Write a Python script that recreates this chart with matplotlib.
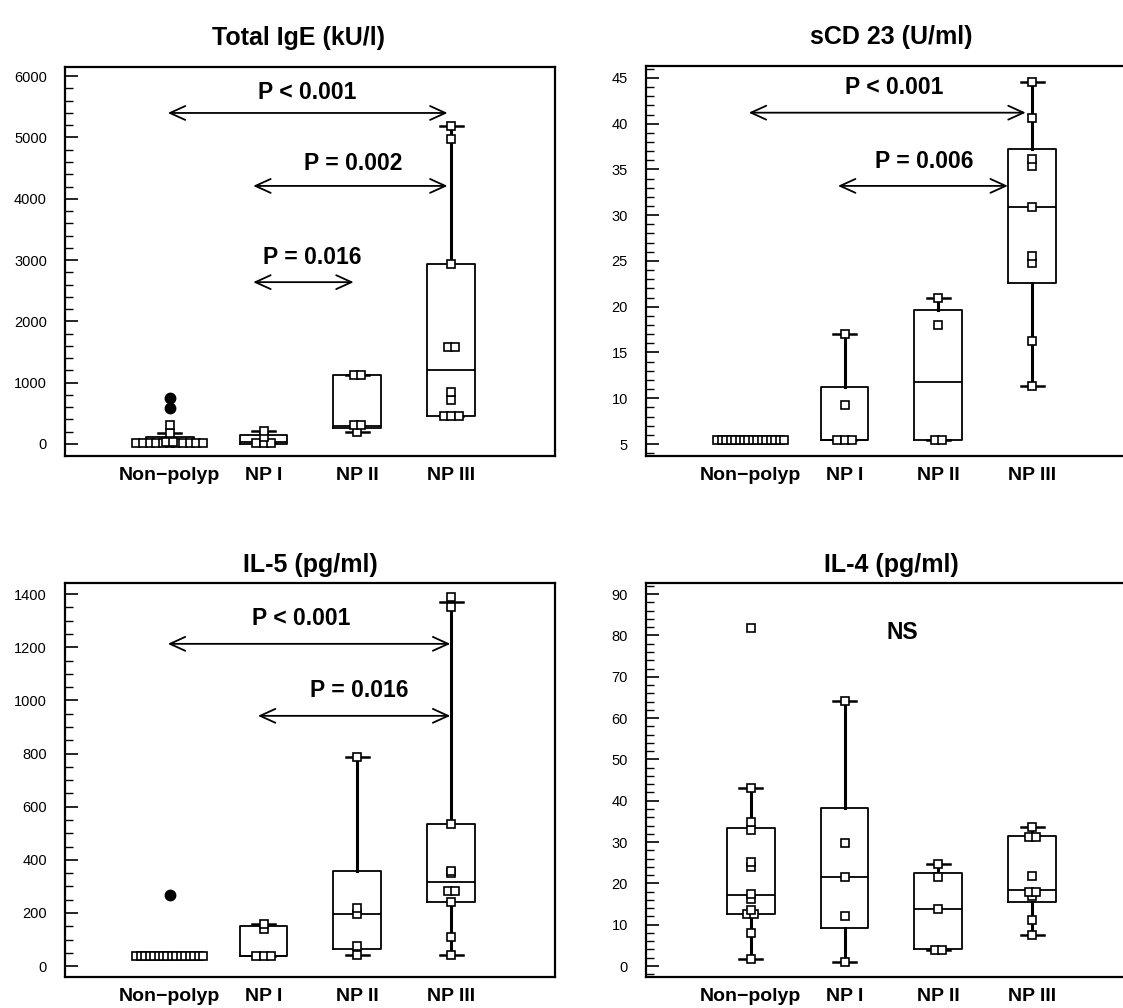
import matplotlib
matplotlib.use("Agg")
import matplotlib.pyplot as plt
from matplotlib.ticker import MultipleLocator
from collections import Counter

plt.rcParams['font.family'] = ['Liberation Sans', 'DejaVu Sans']

groups = ["Non\u2212polyp", "NP I", "NP II", "NP III"]

# Total IgE (kU/l)
ige_points = [
    [8] * 11 + [40, 40, 175, 310],
    [10, 10, 10, 110, 215],
    [200, 310, 310, 1125, 1125],
    [457, 457, 457, 718, 843, 1588, 1588, 2936, 4980, 5180],
]
ige_farout = [[587, 750], [], [], []]
ige_q1 = [8, 5, 265, 457]
ige_med = [15, 40, 300, 1215]
ige_q3 = [120, 150, 1125, 2936]
ige_lo = [8, 10, 200, 457]
ige_hi = [175, 215, 1125, 5180]

# sCD 23 (U/ml)
cd23_points = [
    [5.4] * 16,
    [5.4, 5.4, 5.4, 9.3, 17.0],
    [5.4, 5.4, 18.0, 21.0],
    [11.3, 16.2, 24.8, 25.5, 30.9, 35.4, 36.1, 40.6, 44.5],
]
cd23_farout = [[], [], [], []]
cd23_q1 = [5.4, 5.4, 5.4, 22.6]
cd23_med = [5.4, 5.4, 11.8, 30.9]
cd23_q3 = [5.4, 11.2, 19.6, 37.2]
cd23_lo = [5.4, 5.4, 5.4, 11.3]
cd23_hi = [5.4, 17.0, 21.0, 44.5]

# IL-5 (pg/ml)
il5_points = [
    [38] * 16,
    [38, 38, 38, 139, 158],
    [40, 76, 198, 217, 786],
    [40, 110, 241, 282, 282, 349, 359, 536, 1351, 1388],
]
il5_farout = [[267], [], [], []]
il5_q1 = [38, 38, 63, 241]
il5_med = [38, 38, 198, 317]
il5_q3 = [38, 151, 359, 536]
il5_lo = [38, 38, 40, 40]
il5_hi = [38, 158, 786, 1370]

# IL-4 (pg/ml)
il4_points = [
    [1.7, 7.9, 12.5, 12.5, 13.6, 16.1, 17.4, 23.9, 25.1, 32.8, 34.9, 43.0, 81.9],
    [0.9, 12.1, 21.6, 29.7, 64.2],
    [3.9, 3.9, 13.8, 21.6, 24.6],
    [7.4, 11.1, 16.9, 17.9, 17.9, 21.8, 31.2, 31.2, 33.7],
]
il4_farout = [[], [], [], []]
il4_q1 = [12.6, 9.3, 4.0, 15.5]
il4_med = [17.3, 21.6, 13.8, 18.4]
il4_q3 = [33.5, 38.3, 22.4, 31.4]
il4_lo = [1.7, 0.9, 3.9, 7.4]
il4_hi = [43.0, 64.2, 24.6, 33.7]

# comparison arrows: (x from, x to, y, label, label x, label y)
ige_pvals = [(0.98, 3.96, 5400, "P < 0.001", 2.47, 5740),
             (1.89, 3.96, 4210, "P = 0.002", 2.95, 4570),
             (1.89, 2.96, 2640, "P = 0.016", 2.52, 3050)]
cd23_pvals = [(0.98, 3.93, 41.2, "P < 0.001", 2.53, 43.9),
              (1.93, 3.74, 33.2, "P = 0.006", 2.85, 35.9)]
il5_pvals = [(0.98, 3.99, 1213, "P < 0.001", 2.40, 1307),
             (1.94, 3.99, 942, "P = 0.016", 3.02, 1036)]
il4_pvals = []
il4_note = (2.62, 80.6, "NS")

W, H = 1123, 1008
fig = plt.figure(figsize=(W / 100, H / 100), dpi=100)


def px_axes(left, top, right, bottom):
    return fig.add_axes([left / W, 1 - bottom / H, (right - left) / W, (bottom - top) / H])


def spread(vals, pos, step=0.08, width=0.71):
    cnt = Counter(vals)
    xs, ys = [], []
    for v, n in cnt.items():
        dx = step if n == 1 else min(step, width / (n - 1))
        for k in range(n):
            xs.append(pos + (k - (n - 1) / 2) * dx)
            ys.append(v)
    return xs, ys


def panel(ax, title, points, farout, q1, med, q3, lo, hi, ylim, major, minor, pvals,
          tpad, tx=0.5):
    pos = [1, 2, 3, 4]
    stats = []
    for i in range(4):
        stats.append(dict(med=med[i], q1=q1[i], q3=q3[i], whislo=lo[i], whishi=hi[i], fliers=[]))
    ax.bxp(stats, positions=pos, widths=0.51, showfliers=False,
           boxprops=dict(color='black', linewidth=1.3),
           medianprops=dict(color='black', linewidth=1.3),
           whiskerprops=dict(color='black', linewidth=2.2),
           capprops=dict(color='black', linewidth=1.8),
           capwidths=0.25)
    for i in range(4):
        xs, ys = spread(points[i], pos[i])
        ax.plot(xs, ys, 's', ms=5.6, mfc='white', mec='black', mew=1.2, zorder=4)
        if farout[i]:
            ax.plot([pos[i]] * len(farout[i]), farout[i], 'o', ms=7.5, color='black', zorder=4)
    for x0, x1, y, lab, lx, ly in pvals:
        ax.annotate('', xy=(x1, y), xytext=(x0, y),
                    arrowprops=dict(arrowstyle='<->,head_length=1.1,head_width=0.5',
                                    lw=1.3, color='black', shrinkA=0, shrinkB=0,
                                    mutation_scale=10))
        ax.text(lx, ly, lab, ha='center', va='center', fontsize=16.5, fontweight='bold')
    ax.set_xlim(-0.115, 5.105)
    ax.set_ylim(*ylim)
    ax.yaxis.set_major_locator(MultipleLocator(major))
    ax.yaxis.set_minor_locator(MultipleLocator(minor))
    ax.set_xticks(pos)
    ax.set_xticklabels(groups, fontsize=14, fontweight='bold')
    ax.tick_params(axis='x', length=0, pad=8)
    ax.tick_params(axis='y', which='major', direction='in', length=9, width=1.2,
                   labelsize=10.5, pad=13)
    ax.tick_params(axis='y', which='minor', direction='in', length=6, width=1.0)
    for s in ax.spines.values():
        s.set_linewidth(1.6)
    ax.set_title(title, fontsize=18, fontweight='bold', pad=tpad, x=tx)


ax1 = px_axes(65, 67, 555, 456)
panel(ax1, "Total IgE (kU/l)", ige_points, ige_farout, ige_q1, ige_med, ige_q3,
      ige_lo, ige_hi, (-196, 6150), 1000, 200, ige_pvals, 16, tx=0.477)

ax2 = px_axes(646, 66, 1136, 456)
panel(ax2, "sCD 23 (U/ml)", cd23_points, cd23_farout, cd23_q1, cd23_med, cd23_q3,
      cd23_lo, cd23_hi, (3.69, 46.3), 5, 1, cd23_pvals, 16)

ax3 = px_axes(65, 583, 555, 977)
panel(ax3, "IL-5 (pg/ml)", il5_points, il5_farout, il5_q1, il5_med, il5_q3,
      il5_lo, il5_hi, (-41, 1442), 200, 50, il5_pvals, 8)

ax4 = px_axes(646, 583, 1136, 977)
panel(ax4, "IL-4 (pg/ml)", il4_points, il4_farout, il4_q1, il4_med, il4_q3,
      il4_lo, il4_hi, (-2.66, 92.7), 10, 2, il4_pvals, 8)
ax4.text(il4_note[0], il4_note[1], il4_note[2], ha='center', va='center',
         fontsize=16.5, fontweight='bold')

fig.savefig("out.png", dpi=100)
